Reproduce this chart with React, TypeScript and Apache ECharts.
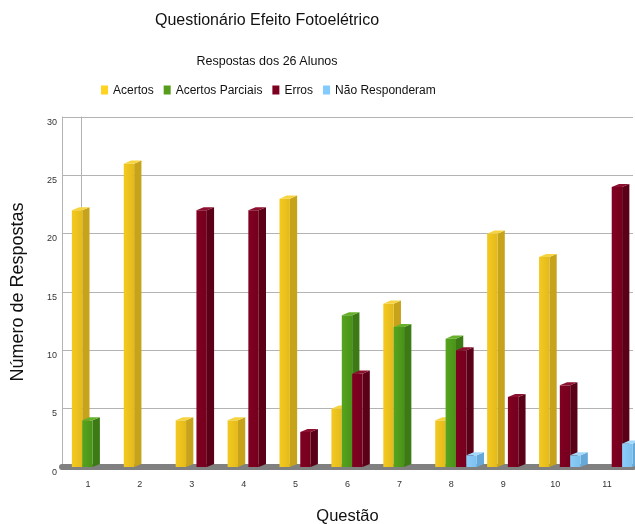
import React, { useEffect, useRef } from "react";
import * as echarts from "echarts";

const categories = ["1", "2", "3", "4", "5", "6", "7", "8", "9", "10", "11"];
const acertos = [22, 26, 4, 4, 23, 5, 14, 4, 20, 18, 0];
const acertosParciais = [4, 0, 0, 0, 0, 13, 12, 11, 0, 0, 0];
const erros = [0, 0, 22, 22, 3, 8, 0, 10, 6, 7, 24];
const naoResponderam = [0, 0, 0, 0, 0, 0, 0, 1, 0, 1, 2];
const yTicks = { min: 0, max: 30, interval: 5 };

const seriesDefs = [
  { name: "Acertos", data: acertos, legend: "#ffd320", front: ["#f3c920", "#e4ba1c"], side: "#c6a31a", top: "#f6d440" },
  { name: "Acertos Parciais", data: acertosParciais, legend: "#579d1c", front: ["#56a41e", "#4a9219"], side: "#3c7a15", top: "#66b02a" },
  { name: "Erros", data: erros, legend: "#7e0021", front: ["#820022", "#74001e"], side: "#5a0017", top: "#8e1030" },
  { name: "Não Responderam", data: naoResponderam, legend: "#83caff", front: ["#8ccdf8", "#7dc0ee"], side: "#66a8d8", top: "#a2d8fb" },
];

const FONT = "Liberation Sans, Arial, sans-serif";

export default function App() {
  const ref = useRef<HTMLDivElement>(null);
  useEffect(() => {
    if (!ref.current) return;
    const chart = echarts.init(ref.current, null, { renderer: "svg" });
    const series = seriesDefs.map((d, s) => ({
      type: "custom",
      name: d.name,
      itemStyle: { color: d.legend },
      encode: { x: 0, y: 1 },
      data: d.data.map((v, i) => [i, v]).filter((p) => p[1] > 0),
      renderItem: (params: any, api: any) => {
        const cat = api.value(0);
        const val = api.value(1);
        const top = api.coord([cat, val]);
        const base = api.coord([cat, 0]);
        const band = api.size([1, 0])[0];
        const fw = band * 0.2;
        const sw = band * 0.14;
        const dy = band * 0.06;
        const x0 = top[0] - band * 0.31 + s * band * 0.2;
        return {
          type: "group",
          children: [
            {
              type: "polygon",
              shape: { points: [[x0 + fw, top[1]], [x0 + fw + sw, top[1] - dy], [x0 + fw + sw, base[1] - dy], [x0 + fw, base[1]]] },
              style: { fill: d.side },
            },
            {
              type: "rect",
              shape: { x: x0, y: top[1], width: fw, height: base[1] - top[1] },
              style: {
                fill: { type: "linear", x: 0, y: 0, x2: 1, y2: 0, colorStops: [{ offset: 0, color: d.front[0] }, { offset: 1, color: d.front[1] }] },
              },
            },
            {
              type: "polygon",
              shape: { points: [[x0, top[1]], [x0 + sw, top[1] - dy], [x0 + fw + sw, top[1] - dy], [x0 + fw, top[1]]] },
              style: { fill: d.top },
            },
          ],
        };
      },
    }));
    chart.setOption({
      animation: false,
      textStyle: { fontFamily: FONT },
      graphic: [
        { type: "text", x: 267, y: 19, style: { text: "Questionário Efeito Fotoelétrico", fontSize: 16, fontFamily: FONT, fill: "#111", align: "center", verticalAlign: "middle" } },
        { type: "text", x: 267, y: 61, style: { text: "Respostas dos 26 Alunos", fontSize: 12.5, fontFamily: FONT, fill: "#111", align: "center", verticalAlign: "middle" } },
      ],
      legend: {
        left: 101,
        top: 84,
        padding: 0,
        itemWidth: 7,
        itemHeight: 9,
        itemGap: 10,
        icon: "rect",
        textStyle: { fontSize: 12, color: "#111", fontFamily: FONT },
        data: seriesDefs.map((d) => d.name),
      },
      grid: { left: 62, right: 2, top: 117, bottom: 57, outerBoundsMode: "none", containLabel: false },
      xAxis: {
        type: "category",
        data: categories,
        name: "Questão",
        nameLocation: "middle",
        nameGap: 39,
        nameTextStyle: { fontSize: 16.5, color: "#111", fontFamily: FONT },
        axisLine: { show: true, lineStyle: { color: "#808080", width: 6 } },
        axisTick: { show: false },
        axisLabel: { fontSize: 9, color: "#333", margin: 12 },
        splitLine: { show: false },
      },
      yAxis: [
        {
          type: "value",
          min: yTicks.min,
          max: yTicks.max,
          interval: yTicks.interval,
          name: "Número de Respostas",
          nameLocation: "middle",
          nameGap: 36,
          nameTextStyle: { fontSize: 18, color: "#111", fontFamily: FONT },
          axisLine: { show: true, lineStyle: { color: "#b3b3b3" } },
          axisTick: { show: false },
          axisLabel: { fontSize: 9, color: "#333", margin: 5, verticalAlign: "top" },
          splitLine: { show: true, lineStyle: { color: "#b3b3b3" } },
        },
        {
          type: "value",
          position: "left",
          offset: -19,
          min: yTicks.min,
          max: yTicks.max,
          interval: yTicks.interval,
          axisLine: { show: true, lineStyle: { color: "#b3b3b3" } },
          axisTick: { show: false },
          axisLabel: { show: false },
          splitLine: { show: false },
        },
      ],
      series,
    });
    return () => chart.dispose();
  }, []);
  return <div ref={ref} style={{ position: "fixed", left: 0, top: 0, width: 635, height: 524 }} />;
}
